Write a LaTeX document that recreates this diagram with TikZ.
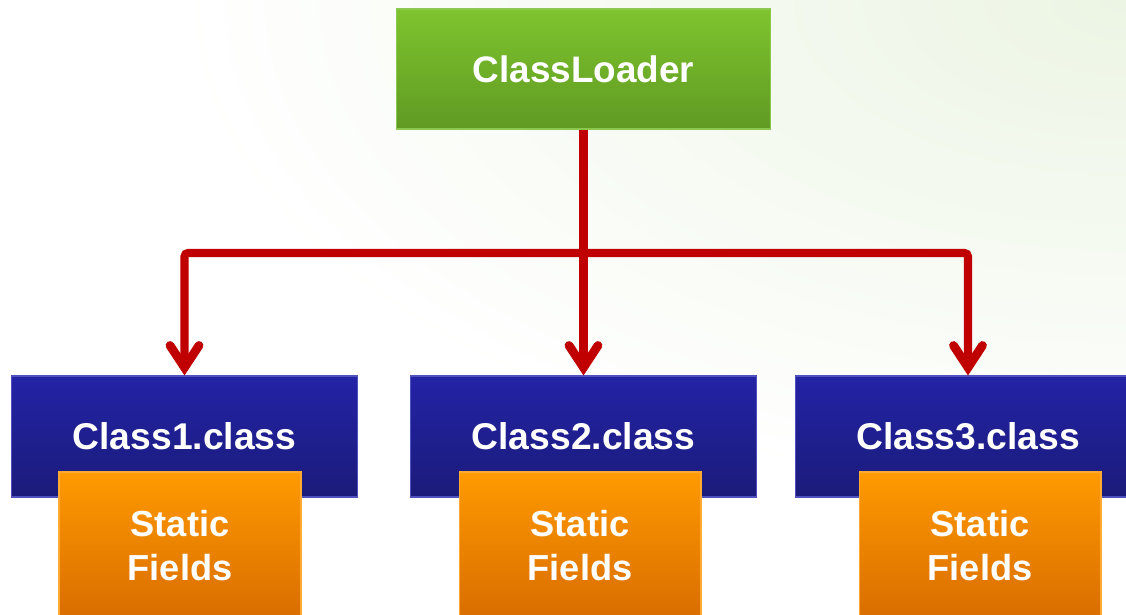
\documentclass[tikz,border=0pt]{standalone}
\usepackage{fontspec}
\setmainfont{Liberation Sans}
\definecolor{LoaderTop}{RGB}{126,196,46}
\definecolor{LoaderBot}{RGB}{96,154,35}
\definecolor{LoaderEdge}{RGB}{140,200,80}
\definecolor{ClassTop}{RGB}{35,35,166}
\definecolor{ClassBot}{RGB}{27,27,122}
\definecolor{ClassEdge}{RGB}{80,80,190}
\definecolor{StaticTop}{RGB}{255,154,0}
\definecolor{StaticBot}{RGB}{216,108,0}
\definecolor{StaticEdge}{RGB}{255,170,50}
\definecolor{LinkRed}{RGB}{192,0,0}
\definecolor{BgGreen}{RGB}{236,245,228}

\begin{document}
\begin{tikzpicture}[x=0.02cm,y=-0.02cm,
  box/.style={inner sep=0pt, text=white, line width=0.6pt, align=center},
  loaderbox/.style={box, top color=LoaderTop, bottom color=LoaderBot, draw=LoaderEdge,
    minimum width=7.5cm, minimum height=2.4cm, font=\bfseries\fontsize{21}{25}\selectfont},
  classbox/.style={box, top color=ClassTop, bottom color=ClassBot, draw=ClassEdge,
    minimum width=6.92cm, minimum height=2.42cm, font=\bfseries\fontsize{21.2}{25}\selectfont},
  staticbox/.style={box, top color=StaticTop, bottom color=StaticBot, draw=StaticEdge,
    minimum width=4.84cm, minimum height=2.96cm, font=\bfseries\fontsize{20.6}{25}\selectfont},
  link/.style={draw=LinkRed, line width=4.6pt, rounded corners=2pt, shorten >=0.2cm},
  head/.pic={\draw[LinkRed, line width=5pt, line cap=round, miter limit=10]
    (-14.5,-30) -- (0,-8) -- (14.5,-30);}]
\useasboundingbox (0,0) rectangle (1126,615);
\clip (0,0) rectangle (1126,615);
\shade[inner color=BgGreen, outer color=white] (1126,0) ellipse (950 and 500);

\node[loaderbox] (loader) at (583.5,69) {ClassLoader};

\node[classbox] (c1) at (184.5,436.5) {Class1.class};
\node[classbox] (c2) at (583.5,436.5) {Class2.class};
\node[classbox] (c3) at (968,436.5) {Class3.class};

\node[staticbox] (s1) at (180,546) {Static\\Fields};
\node[staticbox] (s2) at (580,546) {Static\\Fields};
\node[staticbox] (s3) at (980,546) {Static\\Fields};

\coordinate (bar) at (583.5,253);
\draw[link] (loader.south) -- (c2.north);
\draw[link] (bar) -| (c1.north);
\draw[link] (bar) -| (c3.north);
\foreach \c in {c1,c2,c3}
  \pic at (\c.north) {head};
\end{tikzpicture}
\end{document}
